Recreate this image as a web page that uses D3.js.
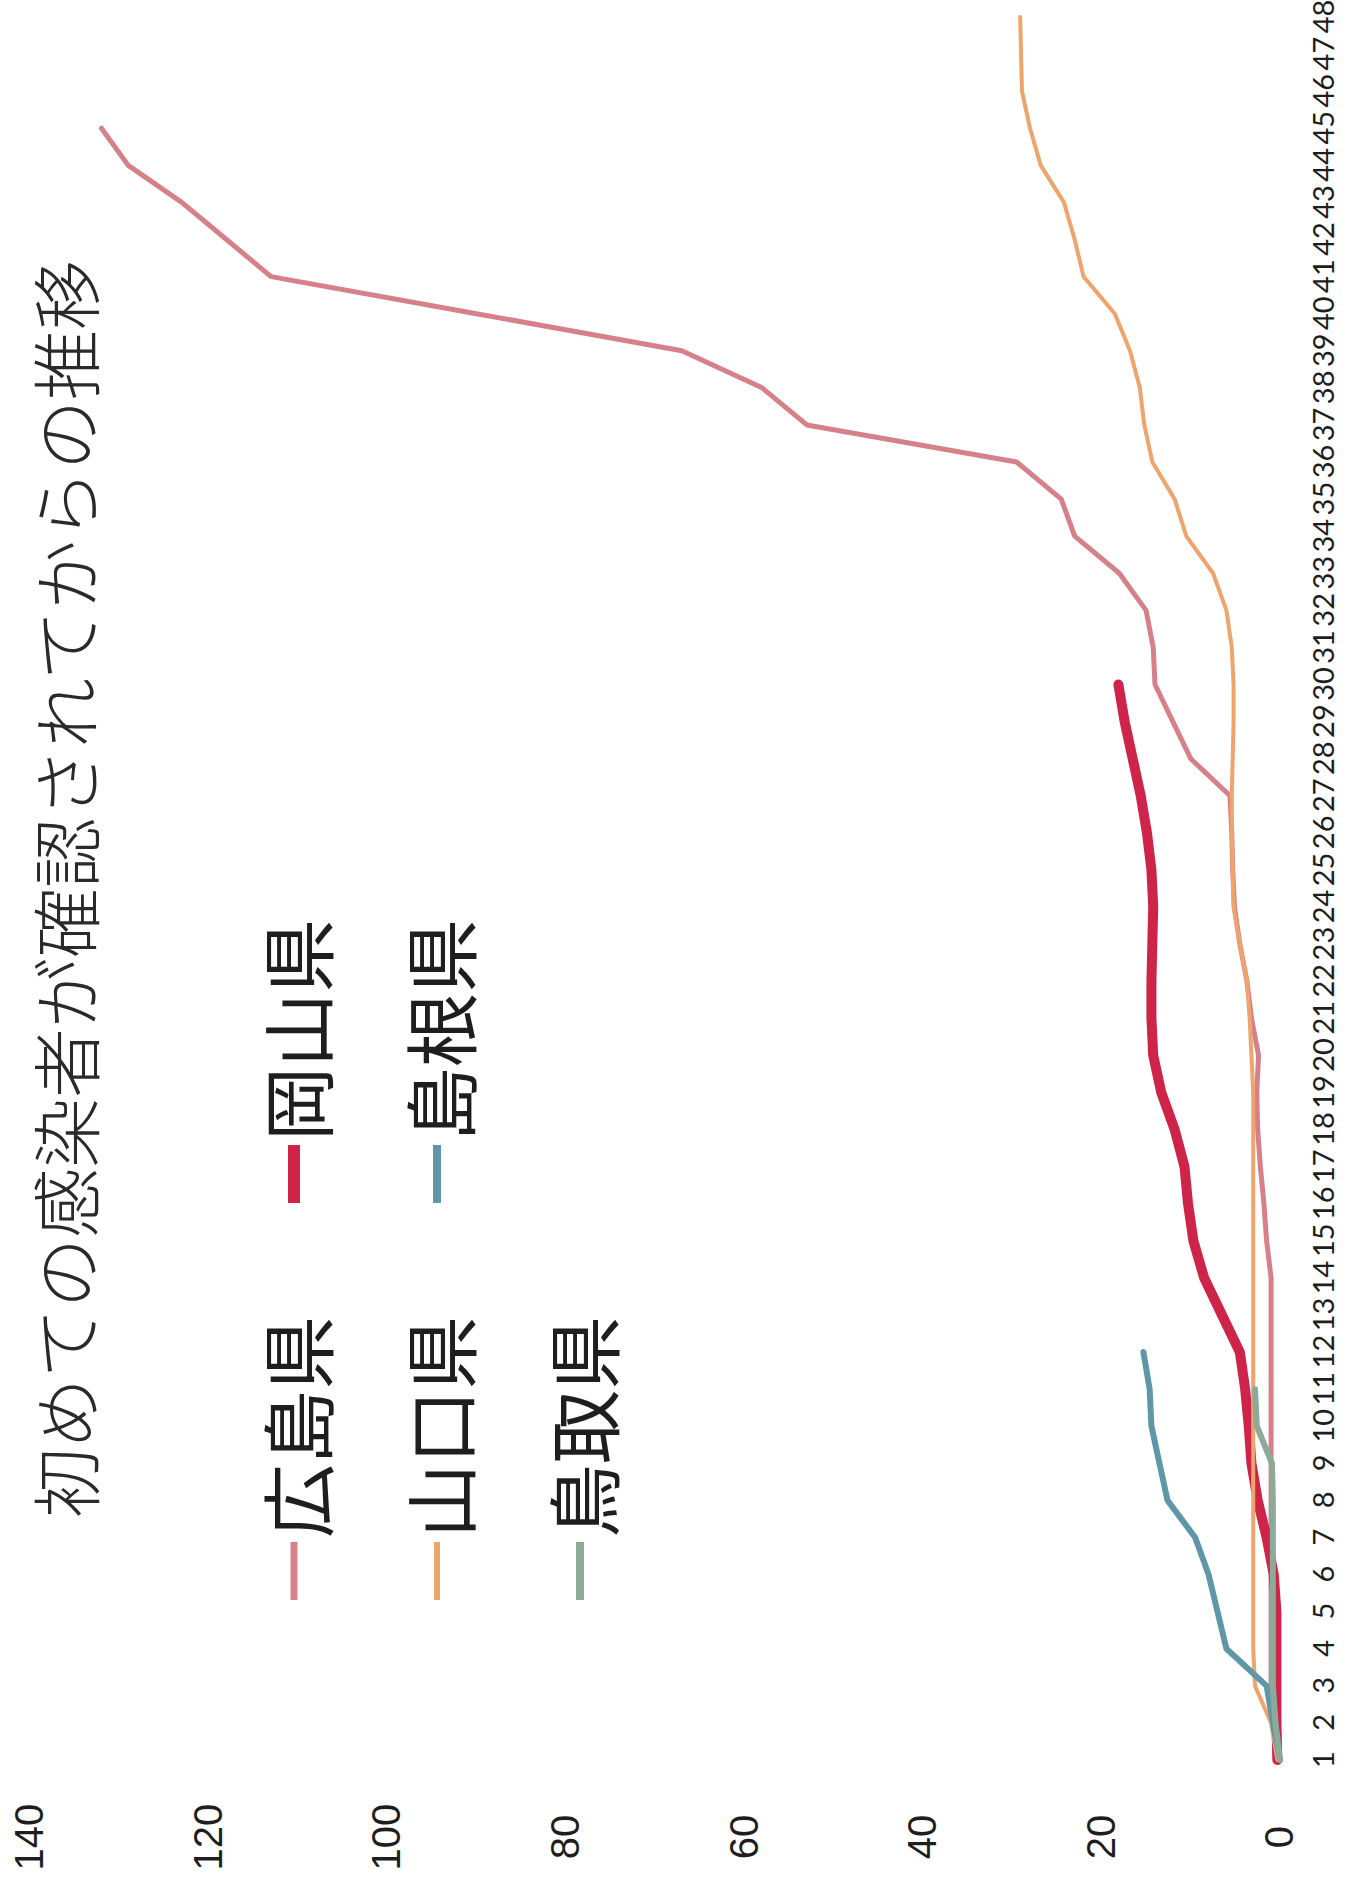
<!DOCTYPE html>
<html lang="ja">
<head>
<meta charset="UTF-8">
<title>初めての感染者が確認されてからの推移</title>
<script src="https://d3js.org/d3.v7.min.js"></script>
<style>
  body { margin: 0; background: #fff; }
  svg { display: block; }
  .title { font-family: "Noto Sans CJK JP", sans-serif; font-weight: 300; font-size: 70px; fill: #2a2a2a; }
  .legend text { font-family: "Noto Sans CJK JP", sans-serif; font-size: 74px; fill: #1e1e1e; }
  .xaxis text { font-family: "Liberation Sans Narrow", Lato, sans-serif; font-size: 29px; fill: #1e1e1e; }
  .yaxis text { font-family: "Liberation Sans", Arial, sans-serif; font-size: 40px; fill: #1e1e1e; }
</style>
</head>
<body>
<div id="chart"></div>
<script>
// days since the first confirmed case
const days = [1, 2, 3, 4, 5, 6, 7, 8, 9, 10, 11, 12, 13, 14, 15, 16, 17, 18, 19, 20, 21, 22, 23, 24,
              25, 26, 27, 28, 29, 30, 31, 32, 33, 34, 35, 36, 37, 38, 39, 40, 41, 42, 43, 44, 45, 46, 47, 48];
const valueTicks = [0, 20, 40, 60, 80, 100, 120, 140];

// cumulative cases per prefecture
const hiroshima = [0, 0.5, 1, 1, 1, 1, 1, 1, 1, 1, 1, 1, 1, 1, 1.5, 1.8, 2.2, 2.5, 2.6, 2.4, 3.2, 3.7, 4.5,
                   5.1, 5.3, 5.4, 5.6, 10, 12, 14, 14.2, 15, 18, 23, 24.5, 29.5, 53, 58, 67, 90, 113, 118,
                   123, 129, 132];
const okayama = [0.3, 0.4, 0.4, 0.4, 0.4, 0.7, 1.5, 2.5, 3.2, 3.5, 3.9, 4.5, 6.5, 8.5, 9.7, 10.3, 10.7,
                 11.8, 13.3, 14.2, 14.4, 14.4, 14.3, 14.2, 14.4, 14.9, 15.6, 16.5, 17.4, 18.1];
const yamaguchi = [0.3, 1, 2.8, 3, 3, 3, 3, 3, 3, 3, 3, 3, 3, 3, 3, 3, 3, 3, 3, 3.2, 3.4, 3.7, 4.5, 5.2,
                   5.3, 5.4, 5.4, 5.3, 5.2, 5.2, 5.4, 6, 7.5, 10.5, 11.8, 14.3, 15.2, 15.7, 16.8, 18.5, 22,
                   23, 24.2, 26.8, 28, 28.9, 29, 29.1];
const shimane = [0, 0.8, 1.5, 6, 7, 8, 9.5, 12.6, 13.5, 14.4, 14.6, 15.3];
const tottori = [0, 0.5, 0.8, 0.8, 0.8, 0.8, 0.8, 0.8, 0.9, 2.6, 2.8];

const names = ["広島県", "岡山県", "山口県", "島根県", "鳥取県"];

const series = [
  { name: names[0], values: hiroshima, color: "#d6808a", width: 5 },
  { name: names[1], values: okayama,   color: "#cf2449", width: 10 },
  { name: names[2], values: yamaguchi, color: "#eea46c", width: 4 },
  { name: names[3], values: shimane,   color: "#5f97a8", width: 6 },
  { name: names[4], values: tottori,   color: "#8caa98", width: 6 }
];

const W = 1348, H = 1889;

const svg = d3.select("#chart").append("svg")
    .attr("width", W)
    .attr("height", H);

svg.append("rect").attr("width", W).attr("height", H).attr("fill", "#ffffff");

// the scanned chart lies on its side: draw it normally, then turn it -90deg
const g = svg.append("g").attr("transform", `translate(0,${H}) rotate(-90)`);

const x = d3.scalePoint().domain(days).range([129, 1872]);
const y = d3.scaleLinear().domain([0, 140]).range([1280, 30]);

// title
g.append("text")
    .attr("class", "title")
    .attr("x", 1000)
    .attr("y", 63)
    .attr("text-anchor", "middle")
    .attr("dominant-baseline", "central")
    .text("初めての感染者が確認されてからの推移");

// legend: 2 columns, 3 rows
const legend = g.append("g").attr("class", "legend");
const colX = [289, 686];
const rowY = [294, 437, 580];
series.forEach((s, i) => {
  const cx = colX[i % 2], cy = rowY[Math.floor(i / 2)];
  legend.append("line")
      .attr("x1", cx).attr("x2", cx + 58)
      .attr("y1", cy).attr("y2", cy)
      .attr("stroke", s.color)
      .attr("stroke-width", s.width + 2);
  legend.append("text")
      .attr("x", cx + 62)
      .attr("y", cy)
      .attr("dominant-baseline", "central")
      .text(s.name);
});

// day axis
const xAxis = g.append("g")
    .attr("class", "xaxis")
    .attr("transform", "translate(0,1324)")
    .call(d3.axisBottom(x).tickSize(0));
xAxis.select(".domain").remove();
xAxis.selectAll("text").attr("y", 0).attr("dy", "0.35em");

// value axis
const yAxis = g.append("g")
    .attr("class", "yaxis")
    .attr("transform", "translate(52,0)")
    .call(d3.axisLeft(y).tickValues(valueTicks).tickSize(0));
yAxis.select(".domain").remove();
yAxis.selectAll("text").attr("x", 0).attr("text-anchor", "middle");

// lines
const line = d3.line()
    .x((d, i) => x(days[i]))
    .y(d => y(d));

g.append("g").selectAll("path")
    .data(series)
    .join("path")
    .attr("d", s => line(s.values))
    .attr("fill", "none")
    .attr("stroke", s => s.color)
    .attr("stroke-width", s => s.width)
    .attr("stroke-linejoin", "round")
    .attr("stroke-linecap", "round");
</script>
</body>
</html>
